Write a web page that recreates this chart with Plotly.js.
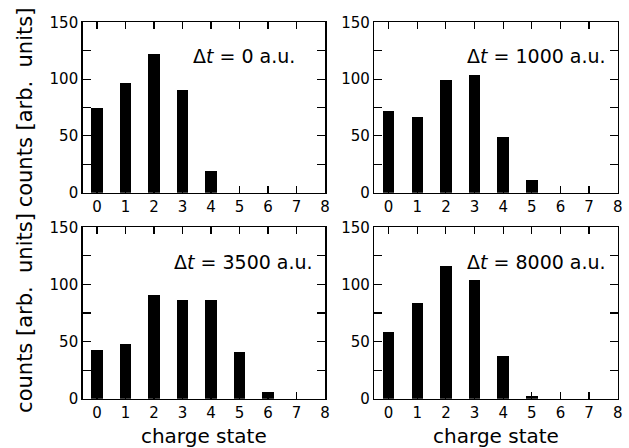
<!DOCTYPE html>
<html>
<head>
<meta charset="utf-8">
<script src="https://cdn.plot.ly/plotly-3.0.1.min.js"></script>
<style>html,body{margin:0;padding:0;background:#fff;}#chart{width:629px;height:448px;}</style>
</head>
<body>
<div id="chart"></div>
<script>
const chargeStates = [0, 1, 2, 3, 4, 5, 6, 7, 8];
const counts0 = [75, 97, 122, 90, 19, 0, 0, 0, 0];
const counts1000 = [72, 67, 99, 104, 49, 11, 0, 0, 0];
const counts3500 = [43, 48, 91, 86, 86, 41, 6, 0, 0];
const counts8000 = [58, 84, 116, 104, 37, 2, 0, 0, 0];
const delays = [0, 1000, 3500, 8000];
const yTickVals = [0, 50, 100, 150];

const series = [counts0, counts1000, counts3500, counts8000];
const axIds = ['', '2', '3', '4'];

const traces = series.map((vals, i) => ({
  type: 'bar',
  x: chargeStates,
  y: vals,
  width: 0.4,
  marker: {color: '#000', line: {width: 0}},
  xaxis: 'x' + axIds[i],
  yaxis: 'y' + axIds[i],
  hoverinfo: 'skip'
}));

const FAM = '"DejaVu Sans", sans-serif';
const tickFont = {family: FAM, size: 15, color: '#000'};

const xDomLeft = [0.1315, 0.5167];
const xDomRight = [0.5951, 0.982];
const yDomTop = [0.5699, 0.9502];
const yDomBot = [0.110, 0.4926];

function xAxis(domain, anchor, showTitle) {
  const a = {
    domain: domain, anchor: anchor, range: [-0.5, 8],
    tickvals: chargeStates, ticktext: chargeStates.map(String),
    ticks: 'inside', ticklen: 7, tickwidth: 1.2, tickcolor: '#000',
    showline: true, linewidth: 1.5, linecolor: '#000', mirror: 'allticks',
    showgrid: false, zeroline: false, tickfont: tickFont, fixedrange: true
  };
  if (showTitle) a.title = {text: 'charge state', font: {family: FAM, size: 20, color: '#000'}, standoff: 10};
  return a;
}
function yAxis(domain, anchor, showTitle) {
  const a = {
    domain: domain, anchor: anchor, range: [0, 150],
    tickvals: yTickVals, ticktext: yTickVals.map(String),
    ticks: 'inside', ticklen: 8, tickwidth: 1.2, tickcolor: '#000',
    minor: {dtick: 25, tick0: 0, ticks: 'inside', ticklen: 8, tickwidth: 1.2, tickcolor: '#000', showgrid: false},
    showline: true, linewidth: 1.5, linecolor: '#000', mirror: 'allticks',
    showgrid: false, zeroline: false, tickfont: tickFont, fixedrange: true
  };
  if (showTitle) a.title = {text: 'counts [arb.  units]', font: {family: FAM, size: 21, color: '#000'}, standoff: 11};
  return a;
}

const annotations = delays.map((d, i) => ({
  xref: 'x' + axIds[i], yref: 'y' + axIds[i],
  x: 5.15, y: 120, xanchor: 'center', yanchor: 'middle',
  text: 'Δ<i>t</i> = ' + d + ' a.u.', showarrow: false,
  font: {family: FAM, size: 19, color: '#000'}
}));

const layout = {
  width: 629, height: 448,
  margin: {l: 0, r: 0, t: 0, b: 0},
  paper_bgcolor: '#fff', plot_bgcolor: '#fff',
  showlegend: false, bargap: 0,
  xaxis: xAxis(xDomLeft, 'y', false),
  yaxis: yAxis(yDomTop, 'x', true),
  xaxis2: xAxis(xDomRight, 'y2', false),
  yaxis2: yAxis(yDomTop, 'x2', false),
  xaxis3: xAxis(xDomLeft, 'y3', true),
  yaxis3: yAxis(yDomBot, 'x3', true),
  xaxis4: xAxis(xDomRight, 'y4', true),
  yaxis4: yAxis(yDomBot, 'x4', false),
  annotations: annotations
};

Plotly.newPlot('chart', traces, layout, {displayModeBar: false, staticPlot: true});
</script>
</body>
</html>
